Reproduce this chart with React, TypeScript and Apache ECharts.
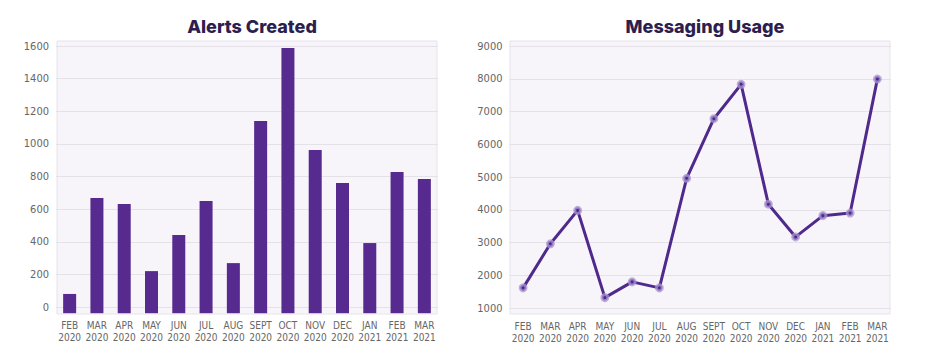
import React, { useEffect, useRef } from "react";
import * as echarts from "echarts";

const months = [
  "FEB 2020", "MAR 2020", "APR 2020", "MAY 2020", "JUN 2020", "JUL 2020", "AUG 2020",
  "SEPT 2020", "OCT 2020", "NOV 2020", "DEC 2020", "JAN 2021", "FEB 2021", "MAR 2021",
];
const alertsCreated = [80, 668, 631, 220, 441, 650, 269, 1140, 1588, 963, 760, 392, 828, 785];
const messagingUsage = [1615, 2960, 3980, 1318, 1798, 1615, 4960, 6780, 7830, 4170, 3170, 3820, 3900, 7990];
const alertsTicks = { min: 0, max: 1600, interval: 200 };
const usageTicks = { min: 1000, max: 9000, interval: 1000 };
const barDrop = -38; // visual: bars reach the plot frame's bottom edge

const PURPLE = "#562a8e";
const LINE = "#4f2a8c";
const TITLE = "#2d1e4f";
const LABEL = "#666666";
const BG = "#f7f5fa";
const BORDER = "#e6e3ea";
const SPLIT = "#e4e1e9";
const NARROW = "'Liberation Sans Narrow', 'DejaVu Sans Condensed', Roboto, sans-serif";

export default function App() {
  const ref = useRef<HTMLDivElement>(null);
  useEffect(() => {
    const chart = echarts.init(ref.current!, null, { renderer: "svg" });
    const xLabel = {
      interval: 0,
      color: LABEL,
      fontSize: 10,
      lineHeight: 12,
      margin: 12,
      fontFamily: NARROW,
      formatter: (v: string) => v.replace(" ", "\n"),
    };
    const yLabel = {
      color: LABEL,
      fontSize: 11,
      margin: 7,
      fontFamily: NARROW,
      formatter: (v: number) => String(v),
    };
    const hiddenAxis = { show: false };
    const titleStyle = { fontFamily: "Inter", fontWeight: 800, fontSize: 18, color: TITLE };
    chart.setOption({
      animation: false,
      title: [
        { text: "Alerts Created", left: 247, top: 12, textAlign: "center", textStyle: titleStyle },
        { text: "Messaging Usage", left: 700, top: 12, textAlign: "center", textStyle: titleStyle },
      ],
      grid: [
        { left: 57, top: 41, width: 380, height: 273, show: true, backgroundColor: BG, borderColor: BORDER, borderWidth: 1, z: -1 },
        { left: 510, top: 41, width: 380, height: 273, show: true, backgroundColor: BG, borderColor: BORDER, borderWidth: 1, z: -1 },
        { left: 56, top: 46, width: 382, height: 261 },
        { left: 509.5, top: 46, width: 381.5, height: 262 },
      ],
      xAxis: [
        { type: "category", gridIndex: 0, data: months, ...hiddenAxis },
        { type: "category", gridIndex: 1, data: months, ...hiddenAxis },
        {
          type: "category",
          gridIndex: 2,
          data: months,
          axisLine: { show: false },
          axisTick: { show: false },
          axisLabel: xLabel,
        },
        {
          type: "category",
          gridIndex: 3,
          data: months,
          boundaryGap: true,
          axisLine: { show: false },
          axisTick: { show: false },
          axisLabel: xLabel,
        },
      ],
      yAxis: [
        { type: "value", gridIndex: 0, ...hiddenAxis },
        { type: "value", gridIndex: 1, ...hiddenAxis },
        {
          type: "value",
          gridIndex: 2,
          ...alertsTicks,
          axisLine: { show: false },
          axisTick: { show: false },
          axisLabel: yLabel,
          splitLine: { lineStyle: { color: SPLIT, width: 1 } },
        },
        {
          type: "value",
          gridIndex: 3,
          ...usageTicks,
          axisLine: { show: false },
          axisTick: { show: false },
          axisLabel: yLabel,
          splitLine: { lineStyle: { color: SPLIT, width: 1 } },
        },
      ],
      series: [
        {
          name: "base",
          type: "bar",
          xAxisIndex: 2,
          yAxisIndex: 2,
          stack: "alerts",
          clip: false,
          silent: true,
          barWidth: 13,
          data: months.map(() => barDrop),
          itemStyle: { color: PURPLE },
        },
        {
          name: "Alerts Created",
          type: "bar",
          xAxisIndex: 2,
          yAxisIndex: 2,
          stack: "alerts",
          barWidth: 13,
          data: alertsCreated,
          itemStyle: { color: PURPLE },
        },
        {
          name: "Messaging Usage",
          type: "line",
          xAxisIndex: 3,
          yAxisIndex: 3,
          data: messagingUsage,
          symbol: "circle",
          symbolSize: 6,
          showSymbol: true,
          lineStyle: { color: LINE, width: 3 },
          itemStyle: { color: LINE, borderColor: "rgba(170,150,210,0.75)", borderWidth: 3 },
          z: 3,
        },
      ],
    });
    return () => chart.dispose();
  }, []);
  return (
    <div
      ref={ref}
      style={{ position: "absolute", left: 0, top: 0, width: 942, height: 358, background: "#fff" }}
    />
  );
}
